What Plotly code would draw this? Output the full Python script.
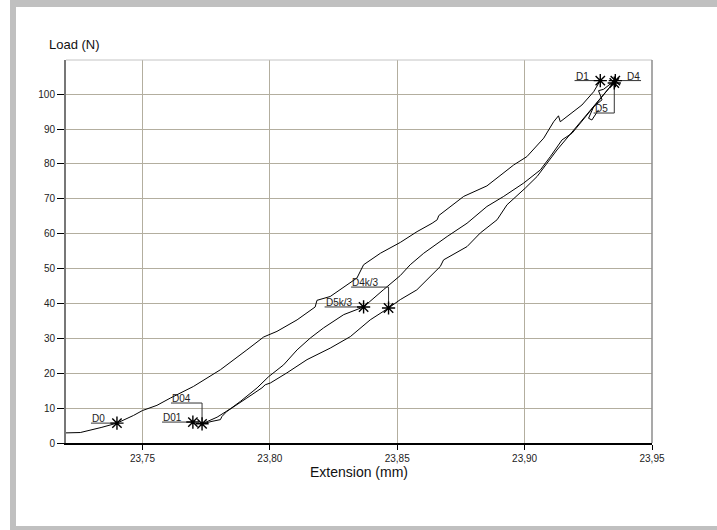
import plotly.graph_objects as go

# ---------------- data ----------------
# first loading curve (D0 -> D1)
load_x = [23.7200, 23.7256, 23.7341, 23.7400, 23.7465, 23.7500, 23.7557, 23.7610, 23.7700,
          23.7806, 23.7910, 23.7976, 23.8028, 23.8107, 23.8178, 23.8185, 23.8237, 23.8342,
          23.8368, 23.8434, 23.8512, 23.8578, 23.8637, 23.8657, 23.8663, 23.8761, 23.8852,
          23.8957, 23.9009, 23.9075, 23.9114, 23.9133, 23.9140, 23.9225, 23.9271, 23.9297]
load_y = [2.9, 3.0, 4.5, 5.7, 7.9, 9.3, 10.8, 12.9, 16.2,
          21.0, 26.7, 30.4, 32.0, 35.3, 39.0, 40.9, 42.0, 47.3,
          51.1, 54.4, 57.5, 60.6, 63.0, 64.0, 65.2, 70.7, 73.7,
          79.7, 82.1, 87.4, 92.1, 93.8, 92.1, 96.9, 100.7, 103.9]

# reloading curve (D04 -> D5)
reload_x = [23.7734, 23.7793, 23.7845, 23.7884, 23.7950, 23.7995, 23.8054, 23.8107, 23.8159,
            23.8211, 23.8290, 23.8368, 23.8447, 23.8512, 23.8551, 23.8604, 23.8696, 23.8774,
            23.8852, 23.8918, 23.8996, 23.9062, 23.9101, 23.9147, 23.9186, 23.9356]
reload_y = [5.5, 7.4, 9.8, 11.9, 15.8, 19.0, 22.4, 26.7, 30.1,
            33.0, 36.8, 39.0, 44.0, 48.0, 51.1, 54.4, 59.2, 63.0,
            67.8, 70.7, 74.5, 78.3, 82.1, 86.9, 88.8, 103.9]

# unloading curve (D4 -> D04)
unload_x = [23.9356, 23.9127, 23.9088, 23.9049, 23.9003, 23.8931, 23.8892, 23.8826, 23.8774,
            23.8682, 23.8669, 23.8577, 23.8512, 23.8466, 23.8394, 23.8316, 23.8237, 23.8146,
            23.8067, 23.8002, 23.7982, 23.7969, 23.7910, 23.7832, 23.7812, 23.7806, 23.7773,
            23.7734]
unload_y = [103.9, 84.0, 80.2, 76.4, 73.1, 68.3, 64.0, 60.2, 56.3,
            52.5, 50.6, 43.9, 41.1, 38.7, 35.3, 30.5, 27.2, 23.9,
            20.1, 17.2, 16.7, 15.8, 12.9, 9.1, 7.6, 6.7, 6.2,
            5.5]

# hold / jagged segment near the peak
hold_x = [23.9348, 23.9310, 23.9290, 23.9304, 23.9271, 23.9251, 23.9264, 23.9290]
hold_y = [103.6, 101.4, 101.0, 98.4, 96.4, 93.1, 92.6, 95.5]

# marked points
point_names = ["D0", "D01", "D04", "D5k/3", "D4k/3", "D1", "D4", "D5"]
point_x = [23.7400, 23.7698, 23.7734, 23.8368, 23.8466, 23.9297, 23.9356, 23.9352]
point_y = [5.7, 6.0, 5.5, 39.0, 38.7, 103.9, 103.9, 103.2]

x_tick_vals = [23.75, 23.80, 23.85, 23.90, 23.95]
x_tick_text = ["23,75", "23,80", "23,85", "23,90", "23,95"]
y_tick_vals = [0, 10, 20, 30, 40, 50, 60, 70, 80, 90, 100]
y_tick_text = ["0", "10", "20", "30", "40", "50", "60", "70", "80", "90", "100"]

# ---------------- label placement (style) ----------------
# (x end of underline away from the star, y of underline)
label_end_x = [23.7298, 23.7577, 23.7612, 23.8215, 23.8319, 23.9196, 23.9457, 23.9271]
label_line_y = [5.7, 6.0, 11.46, 39.0, 44.7, 103.9, 103.9, 94.6]

# ---------------- layout geometry ----------------
W, H = 717, 530
ML, MR, MT, MB = 66, 65, 60, 87
PW, PH = W - ML - MR, H - MT - MB


def pxx(x):
    return (x - ML) / PW


def pxy(y):
    return (H - MB - y) / PH


FONT = "Liberation Sans, Arial, sans-serif"
GRID = "#b3ae9f"

fig = go.Figure()

curve_style = dict(mode="lines", line=dict(color="black", width=1), hoverinfo="skip",
                   showlegend=False)
fig.add_trace(go.Scatter(x=load_x, y=load_y, **curve_style))
fig.add_trace(go.Scatter(x=reload_x, y=reload_y, **curve_style))
fig.add_trace(go.Scatter(x=unload_x, y=unload_y, **curve_style))
fig.add_trace(go.Scatter(x=hold_x, y=hold_y, **curve_style))

annotations = []
for name, sx, sy, lx, ly in zip(point_names, point_x, point_y, label_end_x, label_line_y):
    fig.add_trace(go.Scatter(x=[lx, sx, sx], y=[ly, ly, sy], mode="lines",
                             line=dict(color="#333333", width=1), hoverinfo="skip",
                             showlegend=False))
    right_side = lx > sx
    annotations.append(dict(
        x=lx, y=ly, xref="x", yref="y", text=name, showarrow=False,
        xanchor="right" if right_side else "left", yanchor="bottom",
        xshift=1 if right_side else -1, yshift=-3,
        font=dict(family=FONT, size=10, color="#222222")))

fig.add_trace(go.Scatter(x=point_x, y=point_y, mode="markers",
                         marker=dict(symbol="asterisk-open", size=11, color="black",
                                     line=dict(color="black", width=1.4)),
                         hoverinfo="skip", showlegend=False))

annotations.append(dict(x=pxx(47), y=pxy(45), xref="paper", yref="paper", text="Load (N)",
                        showarrow=False, xanchor="left", yanchor="middle",
                        font=dict(family="Liberation Sans Narrow, Arial Narrow, Liberation Sans",
                                  size=13, color="#111111")))
annotations.append(dict(x=0.5, y=pxy(472), xref="paper", yref="paper", text="Extension (mm)",
                        showarrow=False, xanchor="center", yanchor="middle",
                        font=dict(family=FONT, size=14, color="#111111")))

shapes = [
    # grey frame
    dict(type="rect", xref="paper", yref="paper", x0=pxx(10), x1=pxx(W + 10),
         y0=pxy(H + 10), y1=pxy(-10), fillcolor="#c0c0c0", line=dict(width=0), layer="below"),
    dict(type="rect", xref="paper", yref="paper", x0=pxx(16), x1=pxx(W + 10),
         y0=pxy(526), y1=pxy(7), fillcolor="white", line=dict(width=0), layer="below"),
    # top and right plot borders
    dict(type="line", xref="paper", yref="paper", x0=0, x1=1, y0=1, y1=1,
         line=dict(color="#c4c4c4", width=1)),
    dict(type="line", xref="paper", yref="paper", x0=1, x1=1, y0=0, y1=1,
         line=dict(color="#8c8c8c", width=1.5)),
]

fig.update_layout(
    width=W, height=H, autosize=False,
    margin=dict(l=ML, r=MR, t=MT, b=MB, pad=0),
    paper_bgcolor="white", plot_bgcolor="white",
    showlegend=False,
    annotations=annotations, shapes=shapes,
    xaxis=dict(range=[23.72, 23.95], tickvals=x_tick_vals, ticktext=x_tick_text,
               showgrid=True, gridcolor=GRID, gridwidth=1, zeroline=False,
               showline=True, linecolor="black", linewidth=2,
               ticks="outside", ticklen=5, tickwidth=1, tickcolor="black",
               tickfont=dict(family=FONT, size=10, color="#222222")),
    yaxis=dict(range=[0, 109.8], tickvals=y_tick_vals, ticktext=y_tick_text,
               showgrid=True, gridcolor=GRID, gridwidth=1, zeroline=False,
               showline=True, linecolor="#777777", linewidth=2,
               ticks="outside", ticklen=7, tickwidth=1, tickcolor="black",
               tickfont=dict(family=FONT, size=10, color="#222222")),
)

fig.write_html("out.html")
